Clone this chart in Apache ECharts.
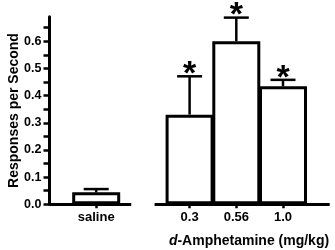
<!DOCTYPE html>
<html><head><meta charset="utf-8">
<script src="https://cdn.jsdelivr.net/npm/echarts@6/dist/echarts.min.js"></script>
<style>html,body{margin:0;padding:0;background:#fff}#c{width:335px;height:250px}</style>
</head><body><div id="c"></div>
<script>
const categories = ['saline', '0.3', '0.56', '1.0'];
const xPositions = [1, 3, 4, 5];
const values = [0.044, 0.33, 0.60, 0.434];
const errors = [0.012, 0.141, 0.087, 0.024];
const significant = [false, true, true, true];
const yTickValues = [0, 0.05, 0.1, 0.15, 0.2, 0.25, 0.3, 0.35, 0.4, 0.45, 0.5, 0.55, 0.6, 0.65];
const yLabelValues = [0, 0.1, 0.2, 0.3, 0.4, 0.5, 0.6];
const axisBreak = [1.75, 2.25];
const xMax = 6;

const FONT = 'Liberation Sans, Arial, sans-serif';
const chart = echarts.init(document.getElementById('c'), null, {renderer: 'canvas'});

const barData = xPositions.map((x, i) => [x, values[i]]);
const errData = xPositions.map((x, i) => [x, values[i], errors[i], significant[i] ? 1 : 0]);

chart.setOption({
  animation: false,
  grid: {left: 49.5, right: 5.3, top: 16.8, bottom: 45.7},
  xAxis: {
    type: 'value', min: 0, max: xMax,
    axisLine: {show: false},
    splitLine: {show: false},
    axisTick: {show: true, customValues: xPositions, length: 4, lineStyle: {color: '#000', width: 2.5}},
    axisLabel: {
      customValues: xPositions, margin: 7,
      formatter: v => categories[xPositions.indexOf(v)] || '',
      fontFamily: FONT, fontWeight: 'bold', fontSize: 13, color: '#000'
    }
  },
  yAxis: {
    type: 'value', min: 0, max: 0.69,
    axisLine: {show: true, lineStyle: {color: '#000', width: 3}},
    splitLine: {show: false},
    axisTick: {show: true, customValues: yTickValues, length: 6, lineStyle: {color: '#000', width: 2.5}},
    axisLabel: {
      customValues: yLabelValues, margin: 8,
      formatter: v => v.toFixed(1),
      fontFamily: FONT, fontWeight: 'bold', fontSize: 12.5, color: '#000'
    }
  },
  graphic: [
    {type: 'text', x: 14, y: 110.5, rotation: Math.PI / 2,
     style: {text: 'Responses per Second', font: 'bold 14px ' + FONT, fill: '#000', align: 'center', verticalAlign: 'middle'}},
    {type: 'text', x: 249, y: 241,
     style: {text: '{i|d}-Amphetamine (mg/kg)', align: 'center', verticalAlign: 'middle',
       rich: {i: {fontStyle: 'italic', fontWeight: 'bold', fontSize: 14, fontFamily: FONT, fill: '#000'}},
       fontWeight: 'bold', fontSize: 14, fontFamily: FONT, fill: '#000'}}
  ],
  series: [
    {
      type: 'bar', data: barData, barWidth: 48, barMaxWidth: 60,
      itemStyle: {color: '#fff', borderColor: '#000', borderWidth: 3},
      markLine: {
        silent: true, symbol: 'none', label: {show: false},
        lineStyle: {color: '#000', width: 3, type: 'solid'},
        data: [
          [{coord: [0, 0]}, {coord: [axisBreak[0], 0]}],
          [{coord: [axisBreak[1], 0]}, {coord: [xMax, 0]}]
        ]
      },
      z: 2
    },
    {
      type: 'custom', data: errData, z: 3,
      renderItem: (params, api) => {
        const x = api.value(0), v = api.value(1), e = api.value(2), sig = api.value(3);
        const p0 = api.coord([x, v]);
        const p1 = api.coord([x, v + e]);
        const half = 12.5;
        const children = [
          {type: 'line', shape: {x1: p0[0], y1: p0[1], x2: p1[0], y2: p1[1]}, style: {stroke: '#000', lineWidth: 2.5}},
          {type: 'line', shape: {x1: p1[0] - half, y1: p1[1], x2: p1[0] + half, y2: p1[1]}, style: {stroke: '#000', lineWidth: 2.5}}
        ];
        if (sig) {
          children.push({type: 'text', x: p1[0], y: p1[1] - 1.7,
            style: {text: '*', font: 'bold 34px ' + FONT, fill: '#000', align: 'center', verticalAlign: 'middle'}});
        }
        return {type: 'group', children};
      }
    }
  ]
});
</script></body></html>
